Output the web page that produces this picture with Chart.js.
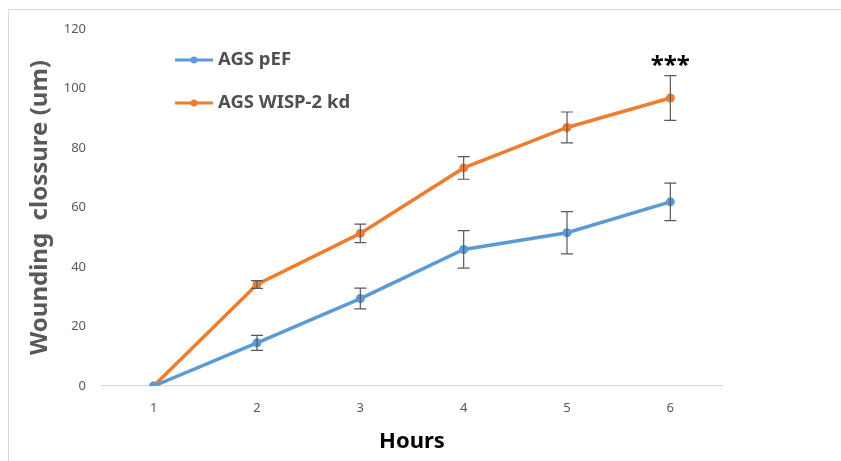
<!DOCTYPE html>
<html>
<head>
<meta charset="utf-8">
<script src="https://cdn.jsdelivr.net/npm/chart.js@4.4.1/dist/chart.umd.min.js"></script>
<style>
  html, body { margin: 0; padding: 0; background: #fff; }
  #wrap { position: relative; width: 841px; height: 461px; }
  #frame { position: absolute; left: 8px; top: 9px; right: 0; bottom: 0; border-left: 1px solid #d9d9d9; border-top: 1px solid #d9d9d9; pointer-events: none; }
  canvas { position: absolute; left: 0; top: 0; }
</style>
</head>
<body>
<div id="wrap">
  <canvas id="c" width="841" height="461"></canvas>
  <div id="frame"></div>
</div>
<script>
// ---- data ----
const hours = ['1', '2', '3', '4', '5', '6'];
const pEF = [0, 14.5, 29.4, 45.9, 51.5, 61.9];
const pEFErr = [0, 2.5, 3.5, 6.3, 7.1, 6.3];
const wisp = [0, 34.1, 51.3, 73.3, 86.9, 96.8];
const wispErr = [0, 1.3, 3.1, 3.8, 5.2, 7.5];
const seriesNames = ['AGS pEF', 'AGS WISP-2 kd'];
const yTicks = [0, 20, 40, 60, 80, 100, 120];
const significance = { index: 5, label: '***' };

const BLUE = '#5b9bd5';
const ORANGE = '#ed7d31';
const FONT = "'Noto Sans', 'DejaVu Sans', sans-serif";

const errorBars = {
  id: 'errorBars',
  afterDatasetsDraw(chart) {
    const { ctx, scales: { x, y } } = chart;
    ctx.save();
    ctx.strokeStyle = '#595959';
    ctx.lineWidth = 1.2;
    chart.data.datasets.forEach((ds) => {
      ds.data.forEach((v, i) => {
        const e = ds.errors[i];
        if (!e) return;
        const px = x.getPixelForValue(i);
        const top = y.getPixelForValue(v + e);
        const bot = y.getPixelForValue(v - e);
        ctx.beginPath();
        ctx.moveTo(px, top); ctx.lineTo(px, bot);
        ctx.moveTo(px - 6, top); ctx.lineTo(px + 6, top);
        ctx.moveTo(px - 6, bot); ctx.lineTo(px + 6, bot);
        ctx.stroke();
      });
    });
    // significance stars
    const ds = chart.data.datasets[1];
    const i = significance.index;
    const px = x.getPixelForValue(i);
    const py = y.getPixelForValue(ds.data[i] + ds.errors[i]);
    ctx.fillStyle = '#000';
    ctx.font = "bold 24px " + FONT;
    ctx.textAlign = 'center';
    ctx.textBaseline = 'middle';
    ctx.fillText(significance.label, px, py - 10);
    ctx.restore();
  }
};

const customLegend = {
  id: 'customLegend',
  afterDraw(chart) {
    const { ctx } = chart;
    const items = chart.data.datasets;
    const x0 = 175, len = 38;
    const ys = [60, 103];
    ctx.save();
    items.forEach((ds, k) => {
      const yy = ys[k];
      ctx.strokeStyle = ds.borderColor;
      ctx.lineWidth = 3;
      ctx.beginPath();
      ctx.moveTo(x0, yy); ctx.lineTo(x0 + len, yy);
      ctx.stroke();
      ctx.fillStyle = ds.borderColor;
      ctx.beginPath();
      ctx.arc(x0 + len / 2, yy, 3.5, 0, Math.PI * 2);
      ctx.fill();
      ctx.fillStyle = '#505050';
      ctx.font = "bold 18.5px " + FONT;
      ctx.textAlign = 'left';
      ctx.textBaseline = 'middle';
      ctx.fillText(ds.label, x0 + len + 5, yy);
    });
    ctx.restore();
  }
};

new Chart(document.getElementById('c'), {
  type: 'line',
  data: {
    labels: hours,
    datasets: [
      { label: seriesNames[0], data: pEF, errors: pEFErr, borderColor: BLUE, backgroundColor: BLUE,
        borderWidth: 3.5, pointRadius: 4.5, pointBackgroundColor: BLUE, pointBorderWidth: 0, tension: 0 },
      { label: seriesNames[1], data: wisp, errors: wispErr, borderColor: ORANGE, backgroundColor: ORANGE,
        borderWidth: 3.5, pointRadius: 4.5, pointBackgroundColor: ORANGE, pointBorderWidth: 0, tension: 0 }
    ]
  },
  options: {
    responsive: false,
    animation: false,
    devicePixelRatio: 1,
    layout: { padding: { left: 0, top: 29, right: 119, bottom: 0 } },
    plugins: { legend: { display: false }, tooltip: { enabled: false } },
    scales: {
      x: {
        offset: true,
        grid: { display: false, drawTicks: false },
        border: { display: true, color: '#d9d9d9', width: 1.2 },
        ticks: { color: '#595959', font: { family: FONT, size: 13 }, padding: 14 },
        title: { display: true, text: 'Hours', color: '#000', font: { family: FONT, size: 22, weight: 'bold' }, padding: { top: 0, bottom: 6 } },
        afterFit(s) { s.height = 75; }
      },
      y: {
        min: 0, max: 120,
        afterBuildTicks(s) { s.ticks = yTicks.map(v => ({ value: v })); },
        grid: { display: false, drawTicks: false },
        border: { display: false },
        ticks: { color: '#595959', font: { family: FONT, size: 13 }, padding: 16 },
        title: { display: true, text: 'Wounding  clossure (um)', color: '#595959', font: { family: FONT, size: 24, weight: 'bold' }, padding: { top: 26, bottom: 0 } },
        afterFit(s) { s.width = 102; }
      }
    }
  },
  plugins: [errorBars, customLegend]
});
</script>
</body>
</html>
